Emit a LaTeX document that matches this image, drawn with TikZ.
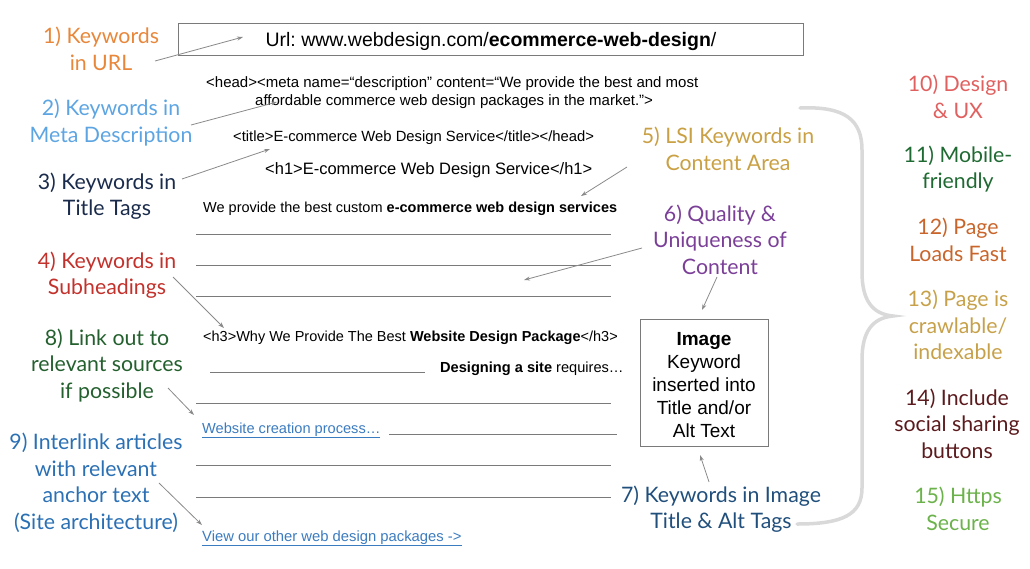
\documentclass[tikz,border=0pt]{standalone}
\usepackage{fontspec}
\setmainfont{Liberation Sans}
\newfontfamily\gill{Lato}
\usetikzlibrary{arrows.meta}
\frenchspacing
\definecolor{cA}{HTML}{E8873A}
\definecolor{cB}{HTML}{5DA5E2}
\definecolor{cC}{HTML}{1A2B4C}
\definecolor{cD}{HTML}{C2312B}
\definecolor{cE}{HTML}{24602E}
\definecolor{cF}{HTML}{2B70B4}
\definecolor{cG}{HTML}{C9A043}
\definecolor{cH}{HTML}{7B3F98}
\definecolor{cI}{HTML}{214F7C}
\definecolor{cJ}{HTML}{E0605F}
\definecolor{cK}{HTML}{1F6A32}
\definecolor{cL}{HTML}{C9652B}
\definecolor{cM}{HTML}{C7A14A}
\definecolor{cN}{HTML}{5B1A1D}
\definecolor{cO}{HTML}{6BB24B}
\definecolor{linkc}{HTML}{3B7BBF}
\definecolor{rulec}{HTML}{7A7A7A}
\definecolor{arrc}{HTML}{8A8A8A}
\definecolor{bracec}{HTML}{D9D9D9}
\tikzset{
  lbl/.style={font=\gill\fontsize{21.3}{26.5}\selectfont, align=center, inner sep=0pt},
  body/.style={font=\fontsize{14.6}{17}\selectfont, anchor=base west, inner sep=0pt},
  rulel/.style={draw=rulec, line width=0.9pt},
  arr/.style={draw=arrc, line width=0.8pt, -{Stealth[length=6pt,width=4pt]}},
}
\begin{document}
\begin{tikzpicture}[x=1pt,y=-1pt]
\useasboundingbox (0,0) rectangle (1030,568);
% URL box
\node[draw=rulec, line width=1pt, minimum width=625pt, minimum height=32pt, inner sep=0pt, anchor=north west] (urlbox) at (178,23) {};
\node[font=\fontsize{19.5}{21}\selectfont, anchor=base, inner sep=0pt] (url) at (491,46.5) {Url: www.webdesign.com/\textbf{ecommerce-web-design}/};
% body texts
\node[body, font=\fontsize{15}{17}\selectfont] (head1) at (206,87) {<head><meta name=“description” content=“We provide the best and most};
\node[body, font=\fontsize{15}{17}\selectfont] (head2) at (255,105) {affordable commerce web design packages in the market.”>};
\node[body, font=\fontsize{14.8}{17}\selectfont] (title) at (233,141) {<title>E-commerce Web Design Service</title></head>};
\node[body, font=\fontsize{16.5}{17}\selectfont] (h1) at (265,174) {<h1>E-commerce Web Design Service</h1>};
\node[body, font=\fontsize{14.5}{17}\selectfont] (wep) at (203,212) {We provide the best custom \textbf{e-commerce web design services}};
\node[body, font=\fontsize{14.5}{17}\selectfont] (h3) at (203,341) {<h3>Why We Provide The Best \textbf{Website Design Package}</h3>};
\node[body] (dsg) at (440,372) {\textbf{Designing a site} requires\dots};
\node[body, text=linkc] (web) at (202,433) {\underline{Website creation process\dots}};
\node[body, text=linkc, font=\fontsize{14.8}{17}\selectfont] (view) at (202,541) {\underline{View our other web design packages ->}};
% rules
\coordinate (r1a) at (196,234); \coordinate (r1b) at (611,234);
\coordinate (r2a) at (196,265); \coordinate (r2b) at (611,265);
\coordinate (r3a) at (196,296); \coordinate (r3b) at (611,296);
\coordinate (r4a) at (210,372); \coordinate (r4b) at (425,372);
\coordinate (r5a) at (196,403); \coordinate (r5b) at (611,403);
\coordinate (r6a) at (389,434); \coordinate (r6b) at (617,434);
\coordinate (r7a) at (196,465); \coordinate (r7b) at (611,465);
\coordinate (r8a) at (196,497); \coordinate (r8b) at (611,497);
\foreach \i in {1,...,8} {\draw[rulel] (r\i a) -- (r\i b);}
% image box
\node[draw=rulec, line width=1pt, minimum width=128pt, minimum height=127pt, inner sep=0pt] (imgbox) at (704,382.5) {};
\node[font=\fontsize{19}{23}\selectfont, align=center, inner sep=0pt] (imgtxt) at (704,385) {\textbf{Image}\\Keyword\\inserted into\\Title and/or\\Alt Text};
% labels left
\node[lbl, text=cA] (L1) at (101,49) {1) Keywords\\in URL};
\node[lbl, text=cB] (L2) at (111,122.5) {2) Keywords in\\Meta Description};
\node[lbl, text=cC] (L3) at (107,196) {3) Keywords in\\Title Tags};
\node[lbl, text=cD] (L4) at (107,275) {4) Keywords in\\Subheadings};
\node[lbl, text=cE] (L8) at (107,365.5) {8) Link out to\\relevant sources\\if possible};
\node[lbl, text=cF] (L9) at (96,483) {9) Interlink articles\\with relevant\\anchor text\\(Site architecture)};
% labels middle
\node[lbl, text=cG] (L5) at (728,149) {5) LSI Keywords in\\Content Area};
\node[lbl, text=cH] (L6) at (720,239.5) {6) Quality \&\\Uniqueness of\\Content};
\node[lbl, text=cI] (L7) at (721,509) {7) Keywords in Image\\Title \& Alt Tags};
% labels right
\node[lbl, text=cJ] (R10) at (958,97) {10) Design\\\& UX};
\node[lbl, text=cK] (R11) at (958,169) {11) Mobile-\\friendly};
\node[lbl, text=cL] (R12) at (958,240) {12) Page\\Loads Fast};
\node[lbl, text=cM] (R13) at (958,325) {13) Page is\\crawlable/\\indexable};
\node[lbl, text=cN] (R14) at (957,423.5) {14) Include\\social sharing\\buttons};
\node[lbl, text=cO] (R15) at (958,509) {15) Https\\Secure};
% brace
\coordinate (bt) at (800,108);
\coordinate (bm) at (893,316);
\coordinate (bb) at (797,524);
\draw[bracec, line width=3.5pt, line cap=round]
  (bt) .. controls (845,106) and (862,120) .. (862,150) -- (862,272)
  .. controls (862,300) and (872,314) .. (bm)
  .. controls (872,318) and (862,332) .. (862,360) -- (862,488)
  .. controls (862,515) and (842,524) .. (bb);
% arrows
\coordinate (a1s) at (155,61); \coordinate (a1e) at (243,37);
\coordinate (a2s) at (191,125); \coordinate (a2e) at (277,102);
\coordinate (a3s) at (182,179); \coordinate (a3e) at (270,149);
\coordinate (a4s) at (173,277); \coordinate (a4e) at (224,328);
\coordinate (a8s) at (168,388); \coordinate (a8e) at (194,415);
\coordinate (a9s) at (159,483); \coordinate (a9e) at (202,525);
\coordinate (a5s) at (627,167); \coordinate (a5e) at (581,196);
\coordinate (a6s) at (642,248); \coordinate (a6e) at (524,280);
\coordinate (a6bs) at (717,277); \coordinate (a6be) at (702,310);
\coordinate (a7s) at (709,482); \coordinate (a7e) at (700,455);
\foreach \p in {a1,a2,a3,a4,a8,a9,a5,a6,a6b,a7} {\draw[arr] (\p s) -- (\p e);}
\end{tikzpicture}
\end{document}
